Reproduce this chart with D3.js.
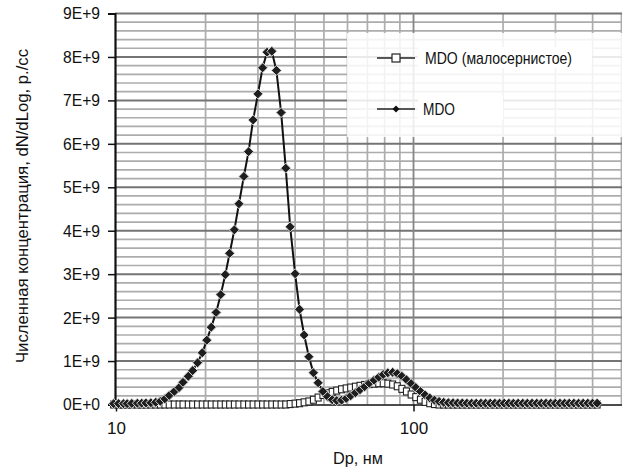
<!DOCTYPE html>
<html><head><meta charset="utf-8">
<script src="https://cdn.jsdelivr.net/npm/d3@7"></script>
<style>
body{margin:0;background:#fff}
text{font-family:"Liberation Sans",Arial,sans-serif;fill:#111}
</style>
</head><body>
<svg id="c" width="622" height="470"></svg>
<script>
// Particle diameters, nm (64 channels per decade)
const diameters = [9.82,10.2,10.6,10.9,11.3,11.8,12.2,12.6,13.1,13.6,14.1,14.6,15.1,15.7,16.3,16.8,17.5,18.1,18.8,19.5,
20.2,20.9,21.7,22.5,23.3,24.1,25.0,25.9,26.9,27.9,28.9,30.0,31.1,32.2,33.4,34.6,35.9,37.2,38.5,40.0,
41.4,42.9,44.5,46.1,47.8,49.6,51.4,53.3,55.2,57.3,59.4,61.5,63.8,66.1,68.5,71.0,73.7,76.4,79.1,82.0,
85.1,88.2,91.4,94.7,98.2,101.8,105.5,109.4,113.4,117.6,121.9,126.3,131.0,135.8,140.7,145.9,151.2,156.8,162.5,168.5,
174.7,181.1,187.7,194.6,201.7,209.1,216.7,224.7,232.9,241.4,250.3,259.5,269.0,278.8,289.0,299.6,310.6,322.0,333.8,346.0,
358.7,371.8,385.4,399.5,414.2];

// Series values in units of 1E+9 particles/cc
const mdoLowSulfur = [0,0,0,0,0,0,0,0,0,0,
0,0,0,0,0,0,0,0,0,0,
0,0,0,0,0,0,0,0,0,0,
0,0,0,0,0,0,0,0,0.01,0.02,
0.03,0.05,0.07,0.11,0.16,0.22,0.26,0.29,0.32,0.35,
0.37,0.39,0.41,0.43,0.45,0.47,0.48,0.49,0.49,0.48,
0.46,0.42,0.36,0.30,0.23,0.17,0.11,0.06,0.03,0.01,
0,0,0,0,0,0,0,0,0,0,
0,0,0,0,0,0,0,0,0,0,
0,0,0,0,0,0,0,0,0,0,
0,0,0,0,0];

const mdo = [0.02,0.02,0.02,0.02,0.025,0.03,0.03,0.035,0.04,0.05,
0.075,0.13,0.21,0.30,0.39,0.51,0.65,0.78,0.96,1.19,
1.48,1.78,2.12,2.53,2.99,3.48,4.02,4.62,5.25,5.82,
6.55,7.15,7.75,8.11,8.13,7.69,6.72,5.44,4.09,3.01,
2.19,1.60,1.10,0.73,0.50,0.30,0.18,0.11,0.09,0.10,
0.14,0.20,0.27,0.34,0.41,0.49,0.56,0.63,0.69,0.73,
0.74,0.71,0.65,0.57,0.48,0.39,0.30,0.22,0.15,0.10,
0.07,0.05,0.04,0.04,0.035,0.035,0.03,0.03,0.03,0.03,
0.03,0.03,0.03,0.03,0.03,0.03,0.03,0.03,0.03,0.03,
0.03,0.03,0.03,0.03,0.03,0.03,0.03,0.03,0.03,0.03,
0.03,0.03,0.03,0.03,0.03];

const yTicks = [0,1,2,3,4,5,6,7,8,9];
const yTickLabels = ["0E+0","1E+9","2E+9","3E+9","4E+9","5E+9","6E+9","7E+9","8E+9","9E+9"];
const xTicks = [10,100];
const xTickLabels = ["10","100"];
const xMinorGrid = [20,30,40,50,60,70,80,90,200,300,400,500,600,700,800,900];
const seriesNames = ["MDO (малосернистое)","MDO"];
const yTitle = "Численная концентрация, dN/dLog, p./cc";
const xTitle = "Dp, нм";

const svg = d3.select("#c");
const W = 622;
const x = d3.scaleLog().domain([10,1000]).range([116, 116 + 2*297.5]);
const y = d3.scaleLinear().domain([0,9]).range([404.5,13.5]);
const left = 115;

// horizontal minor grid
const minor = d3.range(0, 9.0001, 0.2).filter(v => Math.abs(v - Math.round(v)) > 1e-6);
svg.append("g").selectAll("line").data(minor).join("line")
  .attr("x1", left).attr("x2", W).attr("y1", d => y(d)).attr("y2", d => y(d))
  .attr("stroke", "#acacac").attr("stroke-width", 1.7);
// vertical minor grid
svg.append("g").selectAll("line").data(xMinorGrid).join("line")
  .attr("x1", d => x(d)).attr("x2", d => x(d)).attr("y1", y(9)).attr("y2", y(0))
  .attr("stroke", "#acacac").attr("stroke-width", 1.7);
// horizontal major grid
svg.append("g").selectAll("line").data(yTicks.slice(1)).join("line")
  .attr("x1", left).attr("x2", W).attr("y1", d => y(d)).attr("y2", d => y(d))
  .attr("stroke", "#747474").attr("stroke-width", 2);
// vertical major grid at 100
svg.append("line").attr("x1", x(100)).attr("x2", x(100)).attr("y1", y(9)).attr("y2", y(0))
  .attr("stroke", "#858585").attr("stroke-width", 1.8);

// legend background
svg.append("rect").attr("x", 347).attr("y", 33).attr("width", W - 347).attr("height", 104)
  .attr("fill", "#fff").attr("opacity", 0.85);
svg.append("rect").attr("x", 418).attr("y", 47).attr("width", 174).attr("height", 21).attr("fill", "#fff");
svg.append("rect").attr("x", 418).attr("y", 96).attr("width", 85).attr("height", 24).attr("fill", "#fff");

// axes
const yAxis = d3.axisLeft(y).tickValues(yTicks).tickFormat((d,i) => yTickLabels[i]).tickSize(7).tickPadding(8);
const gy = svg.append("g").attr("transform", `translate(${left},0)`).call(yAxis);
gy.select(".domain").attr("stroke", "#111").attr("stroke-width", 2.2);
gy.selectAll(".tick line").attr("stroke", "#111").attr("stroke-width", 1.5);
gy.selectAll(".tick text").style("font-size", "17px").attr("fill", "#111")
  .attr("textLength", 37).attr("lengthAdjust", "spacingAndGlyphs");

const xAxis = d3.axisBottom(x).tickValues(xTicks).tickFormat((d,i) => xTickLabels[i]).tickSize(7).tickPadding(10).tickSizeOuter(0);
const gx = svg.append("g").attr("transform", `translate(0,${y(0)})`).call(xAxis);
gx.select(".domain").attr("stroke", "#111").attr("stroke-width", 1.5);
gx.selectAll(".tick line").attr("stroke", "#111").attr("stroke-width", 1.5);
gx.selectAll(".tick text").style("font-size", "17px").attr("fill", "#111");

// titles
svg.append("text").attr("transform", "translate(28,206) rotate(-90)").attr("text-anchor", "middle")
  .style("font-size", "17px").attr("textLength", 314).attr("lengthAdjust", "spacingAndGlyphs").text(yTitle);
svg.append("text").attr("x", 358).attr("y", 464).attr("text-anchor", "middle")
  .style("font-size", "17px").attr("textLength", 50).attr("lengthAdjust", "spacingAndGlyphs").text(xTitle);

// series
const line = d3.line().x(d => x(d[0])).y(d => y(d[1]));
const s1 = diameters.map((d,i) => [d, mdoLowSulfur[i]]);
const s2 = diameters.map((d,i) => [d, mdo[i]]);

svg.append("path").datum(s1).attr("d", line).attr("fill", "none").attr("stroke", "#222").attr("stroke-width", 1.2);
svg.append("g").selectAll("rect").data(s1).join("rect")
  .attr("x", d => x(d[0]) - 3).attr("y", d => y(d[1]) - 3.5).attr("width", 6).attr("height", 7)
  .attr("fill", "#fff").attr("stroke", "#222").attr("stroke-width", 1.1);

svg.append("path").datum(s2).attr("d", line).attr("fill", "none").attr("stroke", "#111").attr("stroke-width", 2);
const dia = r => `M0,${-r}L${r},0L0,${r}L${-r},0Z`;
svg.append("g").selectAll("path").data(s2).join("path")
  .attr("transform", d => `translate(${x(d[0])},${y(d[1])})`).attr("d", dia(5))
  .attr("fill", "#1e1e1e").attr("stroke", "#d8d8d8").attr("stroke-width", 1);

// legend
const lg = svg.append("g");
lg.append("line").attr("x1", 377).attr("x2", 415).attr("y1", 58).attr("y2", 58).attr("stroke", "#222").attr("stroke-width", 1.3);
lg.append("rect").attr("x", 392).attr("y", 54).attr("width", 8).attr("height", 8).attr("fill", "#fff").attr("stroke", "#222").attr("stroke-width", 1.2);
lg.append("text").attr("x", 425).attr("y", 64).style("font-size", "17px")
  .attr("textLength", 147).attr("lengthAdjust", "spacingAndGlyphs").text(seriesNames[0]);
lg.append("line").attr("x1", 377).attr("x2", 415).attr("y1", 109).attr("y2", 109).attr("stroke", "#222").attr("stroke-width", 1.6);
lg.append("path").attr("transform", "translate(396,109)").attr("d", dia(3.5)).attr("fill", "#111");
lg.append("text").attr("x", 423).attr("y", 115).style("font-size", "17px")
  .attr("textLength", 32).attr("lengthAdjust", "spacingAndGlyphs").text(seriesNames[1]);
</script>
</body></html>
